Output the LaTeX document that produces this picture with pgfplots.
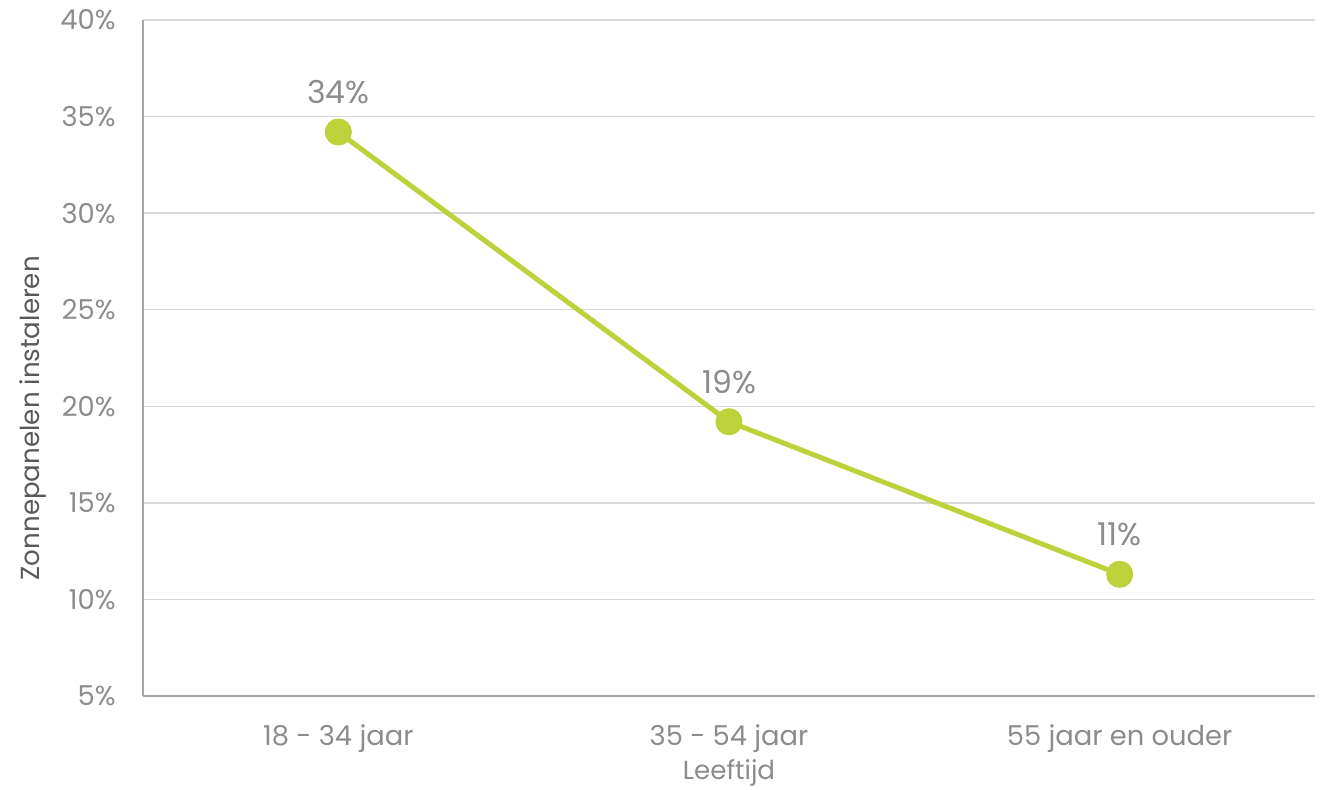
\documentclass[border=0pt]{standalone}
\usepackage{fontspec}
\setmainfont{Poppins}[Scale=0.9]
\usepackage{pgfplots}
\pgfplotsset{compat=1.18}
\definecolor{linegreen}{HTML}{BDD23A}
\definecolor{txtgray}{HTML}{8C8C8C}
\definecolor{gridgray}{HTML}{D9D9D9}
\definecolor{axgray}{HTML}{A6A6A6}
\definecolor{ylabgray}{HTML}{595959}
\begin{document}
\begin{tikzpicture}
\begin{axis}[
  name=ax,
  scale only axis,
  width=586pt, height=338pt,
  xmin=-0.5, xmax=2.5,
  ymin=5, ymax=40,
  xtick={0,1,2},
  xticklabels={18 - 34 jaar, 35 - 54 jaar, 55 jaar en ouder},
  ytick={5,10,15,20,25,30,35,40},
  yticklabels={5\%,10\%,15\%,20\%,25\%,30\%,35\%,40\%},
  axis x line*=bottom, axis y line*=left,
  axis line style={axgray, line width=0.8pt, -},
  major tick length=0pt,
  ymajorgrids, grid style={gridgray, line width=0.7pt},
  ticklabel style={font=\fontsize{15.2}{17}\selectfont, text=txtgray},
  yticklabel style={xshift=-10.5pt},
  xticklabel style={yshift=-11pt},
  xlabel={Leeftijd},
  ylabel={Zonnepanelen instaleren},
  xlabel style={font=\fontsize{14.5}{16}\selectfont, text=txtgray, at={(axis description cs:0.5,0)}, anchor=center, yshift=-38.5pt},
  ylabel style={font=\fontsize{14.5}{16}\selectfont, text=ylabgray, at={(axis description cs:-0.0939,0.411)}, anchor=center},
  clip=false,
]
\addplot[linegreen, line width=2.5pt, mark=*, mark size=5.5pt, mark options={fill=linegreen, draw=linegreen},
  nodes near coords, point meta=explicit symbolic,
  every node near coord/.style={font=\fontsize{17.5}{19}\selectfont, text=txtgray, anchor=center, yshift=20pt}]
  coordinates {(0,34.2)[34\%] (1,19.2)[19\%] (2,11.3)[11\%]};
\end{axis}
\pgfresetboundingbox
\path (ax.south west) ++(-71.5pt,-47pt) coordinate (bl);
\path (ax.north east) ++(3.5pt,10pt) coordinate (tr);
\path[use as bounding box] (bl) rectangle (tr);
\end{tikzpicture}
\end{document}
